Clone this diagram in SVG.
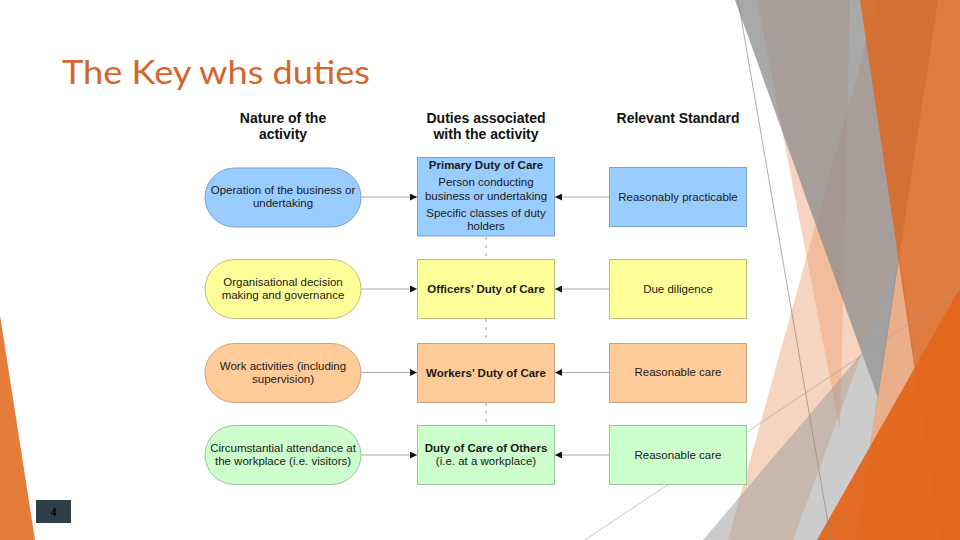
<svg xmlns="http://www.w3.org/2000/svg" width="960" height="540" viewBox="0 0 960 540">
<defs>
<style>
.hd{font-family:"Liberation Sans",Arial,sans-serif;font-size:14px;font-weight:bold;fill:#111;text-anchor:middle}
.t{font-family:"Liberation Sans",Arial,sans-serif;font-size:11.5px;fill:#1a1a1a;text-anchor:middle}
.b{font-weight:bold}
.conn{stroke:#aaaaaa;stroke-width:1;fill:none}
.dot{stroke:#9a9a9a;stroke-width:1;stroke-dasharray:3,5;fill:none}
.blue{fill:#99ccff;stroke:#7f9fc4;stroke-width:1}
.yel{fill:#ffff99;stroke:#bcbc80;stroke-width:1}
.org{fill:#ffcc99;stroke:#c8a47e;stroke-width:1}
.grn{fill:#ccffcc;stroke:#9cc49c;stroke-width:1}
.peach{fill:#eea070;opacity:0.45}
</style>
<marker id="ah" markerWidth="7" markerHeight="7" refX="7" refY="3.5" orient="auto" markerUnits="userSpaceOnUse">
<path d="M0,0 L7,3.5 L0,7 z" fill="#111"/>
</marker>
</defs>
<rect width="960" height="540" fill="#ffffff"/>
<g id="background">
<polygon class="peach" points="757,0 850,0 840,430"/>
<polygon class="peach" points="878,0 938,0 900,250 793,540 728,540"/>
<polygon points="899,250 940,540 856,540" fill="#e28c58" opacity="0.7"/>
<polygon points="735,0 938,0 878,398" fill="#8c8c8c" opacity="0.75"/>
<polygon points="703,540 862,353 900,250 856,540" fill="#999999" opacity="0.5"/>
<polygon points="860,0 960,0 960,540 940,540" fill="#dc6a26" opacity="0.88"/>
<polygon points="817,540 960,288 960,540" fill="#e4661c" opacity="0.95"/>
<line x1="738" y1="0" x2="831" y2="540" stroke="#8a8a8a" stroke-width="0.7"/>
<line x1="585" y1="540" x2="960" y2="290" stroke="#a0a0a0" stroke-width="0.6"/>
<polygon points="0,315 35,540 0,540" fill="#e57c3a"/>
</g>
<g id="page-number">
<rect x="36" y="500" width="35" height="23" fill="#2e3f4a"/>
<text x="53.5" y="516" font-family="Liberation Serif,serif" font-size="12" font-weight="bold" fill="#000" text-anchor="middle">4</text>
</g>
<g id="title">
<text x="62" y="83.5" font-family="Lato,'Open Sans',sans-serif" font-size="32" fill="#d4662a" textLength="308" lengthAdjust="spacingAndGlyphs">The Key whs duties</text>
</g>
<g id="headers">
<text class="hd" x="283" y="123">Nature of the</text>
<text class="hd" x="283" y="139">activity</text>
<text class="hd" x="486" y="123">Duties associated</text>
<text class="hd" x="486" y="139">with the activity</text>
<text class="hd" x="678" y="123">Relevant Standard</text>
</g>
<g id="connectors">
<line class="conn" x1="361" y1="197" x2="417" y2="197" marker-end="url(#ah)"/>
<line class="conn" x1="609" y1="197" x2="555" y2="197" marker-end="url(#ah)"/>
<line class="conn" x1="361" y1="289" x2="417" y2="289" marker-end="url(#ah)"/>
<line class="conn" x1="609" y1="289" x2="555" y2="289" marker-end="url(#ah)"/>
<line class="conn" x1="361" y1="372.5" x2="417" y2="372.5" marker-end="url(#ah)"/>
<line class="conn" x1="609" y1="372.5" x2="555" y2="372.5" marker-end="url(#ah)"/>
<line class="conn" x1="361" y1="455" x2="417" y2="455" marker-end="url(#ah)"/>
<line class="conn" x1="609" y1="455" x2="555" y2="455" marker-end="url(#ah)"/>
<line class="dot" x1="486" y1="237" x2="486" y2="259"/>
<line class="dot" x1="486" y1="319" x2="486" y2="343"/>
<line class="dot" x1="486" y1="403" x2="486" y2="425"/>
</g>
<g id="oval-business">
<rect class="blue" x="205" y="168" width="156" height="59" rx="29.5"/>
<text class="t" x="283" y="193.5">Operation of the business or</text>
<text class="t" x="283" y="206.5">undertaking</text>
</g>
<g id="box-primary">
<rect class="blue" x="417.5" y="157.5" width="137" height="78.5"/>
<text class="t b" x="486" y="169">Primary Duty of Care</text>
<text class="t" x="486" y="185.5">Person conducting</text>
<text class="t" x="486" y="200">business or undertaking</text>
<text class="t" x="486" y="217">Specific classes of duty</text>
<text class="t" x="486" y="230">holders</text>
</g>
<g id="std-practicable">
<rect class="blue" x="609.5" y="167.5" width="137" height="59"/>
<text class="t" x="678" y="200.5">Reasonably practicable</text>
</g>
<g id="oval-officers">
<rect class="yel" x="205" y="259.5" width="156" height="59" rx="29.5"/>
<text class="t" x="283" y="286">Organisational decision</text>
<text class="t" x="283" y="299">making and governance</text>
</g>
<g id="box-officers">
<rect class="yel" x="417.5" y="259.5" width="137" height="59"/>
<text class="t b" x="486" y="293">Officers’ Duty of Care</text>
</g>
<g id="std-diligence">
<rect class="yel" x="609.5" y="259.5" width="137" height="59"/>
<text class="t" x="678" y="292.5">Due diligence</text>
</g>
<g id="oval-workers">
<rect class="org" x="205" y="343.5" width="156" height="59" rx="29.5"/>
<text class="t" x="283" y="370">Work activities (including</text>
<text class="t" x="283" y="383">supervision)</text>
</g>
<g id="box-workers">
<rect class="org" x="417.5" y="343.5" width="137" height="59"/>
<text class="t b" x="486" y="376.5">Workers’ Duty of Care</text>
</g>
<g id="std-care1">
<rect class="org" x="609.5" y="343.5" width="137" height="59"/>
<text class="t" x="678" y="376">Reasonable care</text>
</g>
<g id="oval-others">
<rect class="grn" x="205" y="425.5" width="156" height="59" rx="29.5"/>
<text class="t" x="283" y="451.5">Circumstantial attendance at</text>
<text class="t" x="283" y="464.5">the workplace (i.e. visitors)</text>
</g>
<g id="box-others">
<rect class="grn" x="417.5" y="425.5" width="137" height="59"/>
<text class="t b" x="486" y="451.5">Duty of Care of Others</text>
<text class="t" x="486" y="464.5">(i.e. at a workplace)</text>
</g>
<g id="std-care2">
<rect class="grn" x="609.5" y="425.5" width="137" height="59"/>
<text class="t" x="678" y="458.5">Reasonable care</text>
</g>
</svg>
